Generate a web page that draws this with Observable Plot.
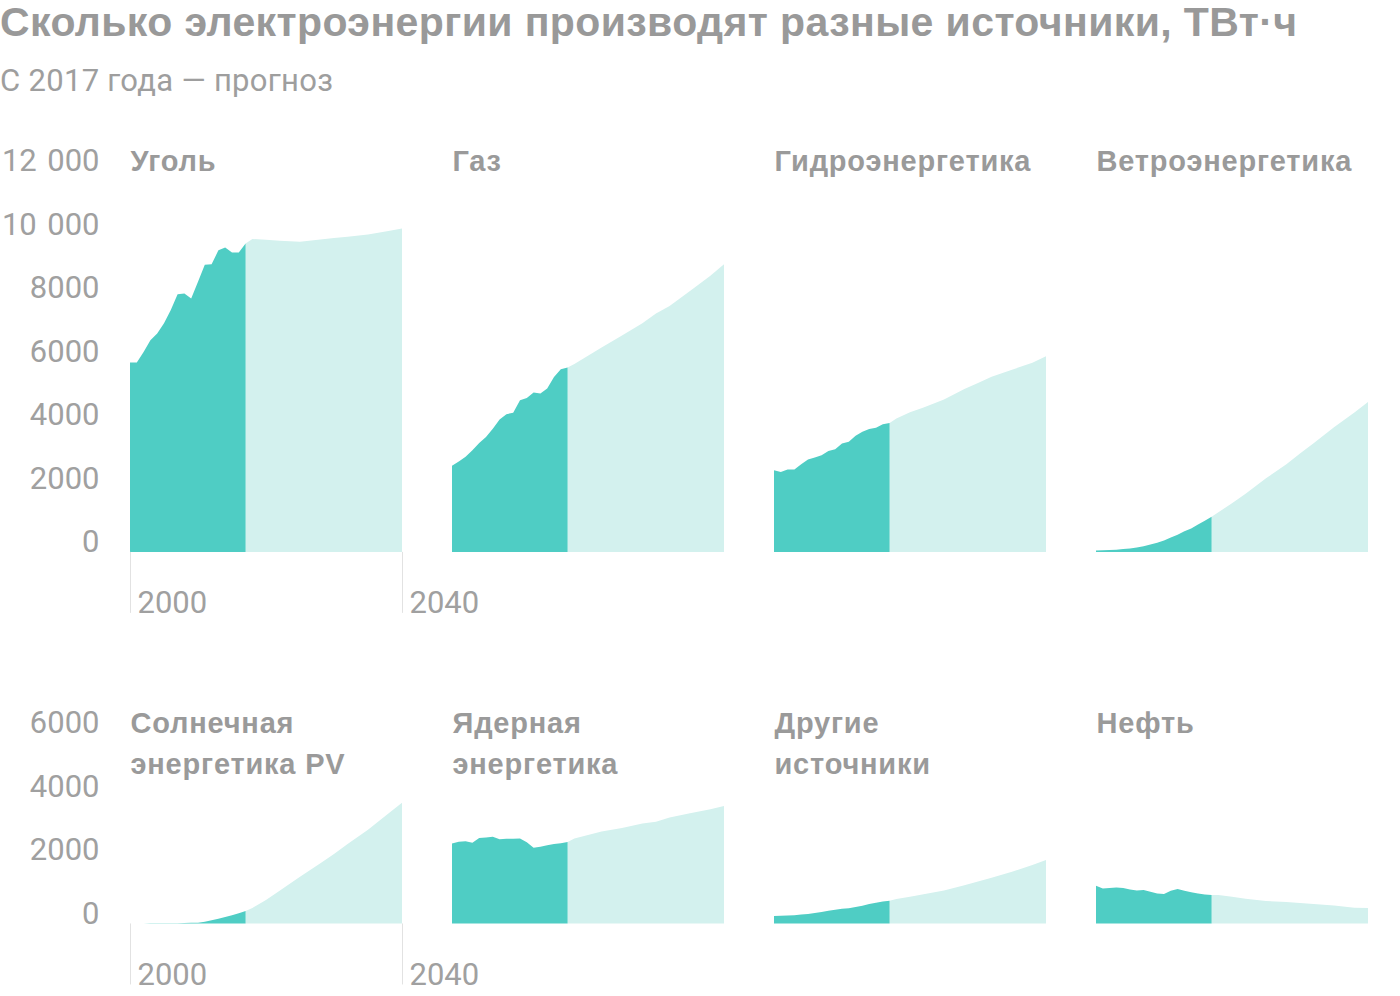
<!DOCTYPE html>
<html>
<head>
<meta charset="utf-8">
<script src="https://cdn.jsdelivr.net/npm/d3@7"></script>
<script src="https://cdn.jsdelivr.net/npm/@observablehq/plot@0.6"></script>
<style>
  html, body { margin: 0; padding: 0; background: #fff; }
  #wrap { position: relative; width: 1400px; height: 996px; overflow: hidden; font-family: Roboto, "Noto Sans", sans-serif; }
  #title { position: absolute; left: 0; top: 2px; font-family: "Liberation Sans", Arial, sans-serif; font-size: 41px; line-height: 41px; letter-spacing: 0.4px; font-weight: 700; color: #999; white-space: nowrap; }
  #subtitle { position: absolute; left: 0; top: 65px; font-size: 31px; line-height: 31px; letter-spacing: 0.3px; font-weight: 400; color: #9e9e9e; white-space: nowrap; }
  .panel { position: absolute; }
  .panel g[font-family*="Liberation"] { letter-spacing: 0.8px; }
</style>
</head>
<body>
<div id="wrap">
  <div id="title">Сколько электроэнергии производят разные источники, ТВт·ч</div>
  <div id="subtitle">С 2017 года — прогноз</div>
</div>
<script>
// ---- data (TWh) ----
const histYears = [2000,2001,2002,2003,2004,2005,2006,2007,2008,2009,2010,2011,2012,2013,2014,2015,2016,2017];
const forecastYears = [2017,2018,2020,2022,2025,2028,2030,2032,2035,2038,2040];

const sourceNames = ["Уголь", "Газ", "Гидроэнергетика", "Ветроэнергетика",
                     "Солнечная\nэнергетика PV", "Ядерная\nэнергетика", "Другие\nисточники", "Нефть"];

const coalHist  = [5970,5970,6300,6670,6880,7200,7620,8120,8140,7980,8510,9050,9060,9500,9590,9430,9430,9716];
const coalFc    = [9716,9860,9830,9800,9770,9840,9890,9930,10000,10110,10190];
const gasHist   = [2710,2850,3000,3200,3430,3620,3880,4170,4340,4380,4780,4850,5020,4990,5150,5510,5750,5810];
const gasFc     = [5810,5920,6180,6440,6820,7200,7510,7750,8220,8700,9060];
const hydroHist = [2574,2520,2596,2596,2763,2911,2974,3047,3182,3236,3415,3466,3655,3781,3875,3907,4023,4064];
const hydroFc   = [4064,4200,4400,4550,4800,5130,5320,5520,5740,5960,6166];
const windHist  = [40,50,60,70,90,110,140,180,230,290,360,450,540,650,740,860,980,1110];
const windFc    = [1110,1250,1530,1830,2320,2760,3100,3420,3930,4390,4720];
const solarHist = [1,2,2,3,4,5,6,8,12,18,25,55,100,150,205,255,320,390];
const solarFc   = [390,490,740,1030,1470,1900,2190,2500,2950,3460,3800];
const nuclearHist = [2520,2570,2590,2541,2690,2710,2730,2650,2670,2670,2680,2560,2384,2420,2460,2500,2530,2563];
const nuclearFc   = [2563,2680,2790,2900,3010,3150,3200,3340,3470,3600,3697];
const otherHist = [231,240,250,260,280,300,330,360,400,430,460,475,520,560,610,650,690,714];
const otherFc   = [714,770,840,920,1040,1200,1320,1440,1630,1840,1996];
const oilHist   = [1187,1103,1120,1134,1120,1070,1035,1050,998,940,924,1029,1082,1030,980,945,915,893];
const oilFc     = [893,893,840,780,705,672,640,615,565,498,483];

const histSeries = [coalHist, gasHist, hydroHist, windHist, solarHist, nuclearHist, otherHist, oilHist];
const fcSeries   = [coalFc, gasFc, hydroFc, windFc, solarFc, nuclearFc, otherFc, oilFc];

const rowMax = [12000, 6000];
const rowTicks = [[0,2000,4000,6000,8000,10000,12000], [0,2000,4000,6000]];
const xTicks = [2000, 2040];

// ---- layout ----
const pxPerUnit = 0.03174;
const frameTops = [170.8, 732.8];
const panelW = 272, step = 322, firstLeft = 130;
const mTop = 60, mBottom = 70;

const HIST = "#4fcdc4", FC = "#d3f1ee", TXT = "#9a9a9a", TICK = "#a0a0a0";
const fmt = v => v >= 10000 ? d3.format(",")(v).replace(",", "\u2004") : String(v);

const wrap = document.getElementById("wrap");
sourceNames.forEach((name, i) => {
  const row = Math.floor(i / 4), col = i % 4;
  const frameH = rowMax[row] * pxPerUnit;
  const mLeft = col === 0 ? firstLeft : 0;
  const hist = histYears.map((year, j) => ({year, value: histSeries[i][j]}));
  const fc = forecastYears.map((year, j) => ({year, value: fcSeries[i][j]}));
  const marks = [
    Plot.areaY(fc, {x: "year", y: "value", fill: FC}),
    Plot.areaY(hist, {x: "year", y: "value", fill: HIST}),
    Plot.text([name], {text: d => d, frameAnchor: "top-left", textAnchor: "start", lineAnchor: "top",
      lineHeight: 1.4, dy: -0.71 * 1.4 * 29, fontSize: 29, fontWeight: "bold", fill: TXT,
      fontFamily: "'Liberation Sans', Arial, sans-serif"})
  ];
  if (col === 0) {
    marks.push(Plot.axisY(rowTicks[row], {tickSize: 0, tickPadding: 31, lineAnchor: "bottom",
      fontSize: 31, fill: TICK, tickFormat: fmt, label: null}));
    // tick lines below the frame
    marks.push(Plot.axisX(xTicks, {tickSize: 61, tickPadding: 0, tickFormat: () => "",
      stroke: "#e2e2e2", label: null}));
    // tick labels, left-aligned just right of the tick lines
    marks.push(Plot.axisX(xTicks, {tickSize: 0, tickPadding: 61, textAnchor: "start", dx: 7,
      lineAnchor: "bottom", fontSize: 31, fill: TICK, tickFormat: d => String(d), label: null}));
  }
  const chart = Plot.plot({
    width: mLeft + panelW,
    height: mTop + frameH + mBottom,
    marginLeft: mLeft, marginRight: 0, marginTop: mTop, marginBottom: mBottom,
    style: {background: "transparent", overflow: "visible", fontFamily: "Roboto, 'Noto Sans', sans-serif", fontSize: "31px"},
    x: {domain: [2000, 2040], axis: null, label: null},
    y: {domain: [0, rowMax[row]], axis: null, label: null},
    marks
  });
  chart.classList.add("panel");
  chart.style.left = (col === 0 ? 0 : firstLeft + step * col) + "px";
  chart.style.top = (frameTops[row] - mTop) + "px";
  wrap.appendChild(chart);
});
</script>
</body>
</html>
